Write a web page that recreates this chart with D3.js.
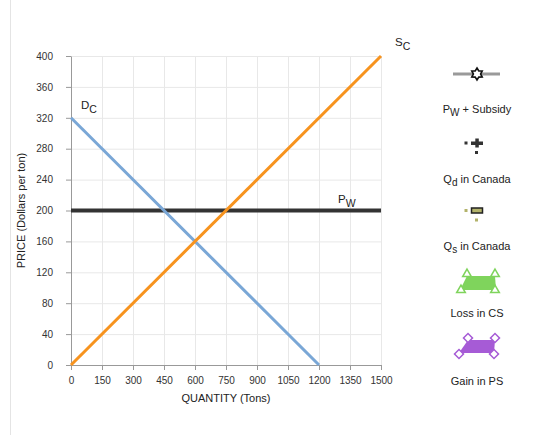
<!DOCTYPE html>
<html>
<head>
<meta charset="utf-8">
<script src="https://cdn.jsdelivr.net/npm/d3@7"></script>
<style>
  body { margin: 0; background: #fff; }
  svg text { font-family: "Liberation Sans", Arial, sans-serif; fill: #222; }
  .grid line { stroke: #e8e8e8; }
  .axis path, .axis line { stroke: #999; }
  .axis text { font-size: 10px; fill: #333; }
</style>
</head>
<body>
<script>
// chart data
const xTicks = [0, 150, 300, 450, 600, 750, 900, 1050, 1200, 1350, 1500];
const yTicks = [0, 40, 80, 120, 160, 200, 240, 280, 320, 360, 400];
const demandPts = [[0, 320], [1200, 0]];
const supplyPts = [[0, 0], [1500, 400]];
const worldPricePts = [[0, 200], [1500, 200]];
const legendLabels = [["P", "W", " + Subsidy"], ["Q", "d", " in Canada"], ["Q", "s", " in Canada"], ["Loss in CS", "", ""], ["Gain in PS", "", ""]];

const margin = {top: 56, right: 179, bottom: 70, left: 71};
const width = 560, height = 435;
const w = width - margin.left - margin.right;
const h = height - margin.top - margin.bottom;

const svg = d3.select('body').append('svg')
    .attr('width', width)
    .attr('height', height);

// faint left border
svg.append('line')
    .attr('x1', 10.5).attr('x2', 10.5)
    .attr('y1', 0).attr('y2', height)
    .style('stroke', '#e4e4e4');

const g = svg.append('g')
    .attr('transform', 'translate(' + margin.left + ',' + margin.top + ')');

const x = d3.scaleLinear().domain([0, 1500]).range([0, w]);
const y = d3.scaleLinear().domain([0, 400]).range([h, 0]);

// grid
g.append('g').attr('class', 'grid')
    .selectAll('line.v').data(xTicks.slice(1)).enter().append('line')
    .attr('x1', d => x(d) + 0.5).attr('x2', d => x(d) + 0.5)
    .attr('y1', 0).attr('y2', h);
g.append('g').attr('class', 'grid')
    .selectAll('line.h').data(yTicks.slice(1)).enter().append('line')
    .attr('x1', 0).attr('x2', w)
    .attr('y1', d => y(d) + 0.5).attr('y2', d => y(d) + 0.5);

// axes
g.append('g').attr('class', 'axis')
    .attr('transform', 'translate(0,' + h + ')')
    .call(d3.axisBottom(x).tickValues(xTicks).tickFormat(d3.format('d')).tickSize(5).tickSizeOuter(0).tickPadding(7));
g.append('g').attr('class', 'axis')
    .call(d3.axisLeft(y).tickValues(yTicks).tickFormat(d3.format('d')).tickSize(5).tickSizeOuter(0).tickPadding(13));

// axis titles
svg.append('text')
    .attr('x', margin.left + w / 2)
    .attr('y', 402)
    .attr('text-anchor', 'middle')
    .style('font-size', '11px')
    .text('QUANTITY (Tons)');
svg.append('text')
    .attr('transform', 'translate(25,' + (margin.top + h / 2) + ') rotate(-90)')
    .attr('text-anchor', 'middle')
    .style('font-size', '11px')
    .text('PRICE (Dollars per ton)');

const line = d3.line().x(d => x(d[0])).y(d => y(d[1]));

g.append('path').datum(worldPricePts)
    .attr('d', line)
    .style('fill', 'none').style('stroke', '#333').style('stroke-width', 4);
g.append('path').datum(demandPts)
    .attr('d', line)
    .style('fill', 'none').style('stroke', '#7aa7d6').style('stroke-width', 3);
g.append('path').datum(supplyPts)
    .attr('d', line)
    .style('fill', 'none').style('stroke', '#f7931e').style('stroke-width', 3);

// curve labels with subscripts
function subLabel(parent, px, py, main, sub, size) {
    let t = parent.append('text').attr('x', px).attr('y', py).style('font-size', size + 'px');
    t.append('tspan').text(main);
    t.append('tspan').attr('dy', 4).style('font-size', (size - 1) + 'px').text(sub);
    return t;
}
subLabel(g, x(demandPts[0][0]) + 10, y(demandPts[0][1]) - 9, 'D', 'C', 11.5);
subLabel(g, x(supplyPts[1][0]) + 14, y(supplyPts[1][1]) - 10, 'S', 'C', 11.5);
subLabel(g, x(1350) - 12, y(200) - 8, 'P', 'W', 11.5);

// legend
const lx = 477;
const leg = svg.append('g');

// Pw + Subsidy icon
leg.append('line')
    .attr('x1', lx - 24).attr('x2', lx + 23)
    .attr('y1', 74).attr('y2', 74)
    .style('stroke', '#9a9a9a').style('stroke-width', 3);
const star = leg.append('g').attr('transform', 'translate(' + lx + ',74)');
const tri = r => [0, 1, 2].map(i => [r * Math.sin(i * 2 * Math.PI / 3), -r * Math.cos(i * 2 * Math.PI / 3)]);
const hex = [];
for (let i = 0; i < 6; i++) {
    let a = i * Math.PI / 3;
    let b = a + Math.PI / 6;
    hex.push([6 * Math.sin(a), -6 * Math.cos(a)]);
    hex.push([3.6 * Math.sin(b), -3.6 * Math.cos(b)]);
}
star.append('polygon')
    .attr('points', hex.map(p => p.join(',')).join(' '))
    .style('fill', '#fff').style('stroke', '#111').style('stroke-width', 1.6);

// Qd icon
const qd = leg.append('g').style('fill', '#333');
qd.append('rect').attr('x', 464.5).attr('y', 141.5).attr('width', 3).attr('height', 3);
qd.append('rect').attr('x', 475).attr('y', 151).attr('width', 3).attr('height', 3);
qd.append('rect').attr('x', 471).attr('y', 141.5).attr('width', 12).attr('height', 3.5);
qd.append('rect').attr('x', 475.3).attr('y', 138.5).attr('width', 3.5).attr('height', 9);

// Qs icon
const qs = leg.append('g');
qs.append('rect').attr('x', 464.5).attr('y', 209).attr('width', 3).attr('height', 3).style('fill', '#b3b36b');
qs.append('rect').attr('x', 475).attr('y', 218.5).attr('width', 3).attr('height', 3).style('fill', '#b3b36b');
qs.append('rect').attr('x', 471.5).attr('y', 208).attr('width', 11).attr('height', 5)
    .style('fill', '#b3b36b').style('stroke', '#222').style('stroke-width', 1.5);

// Loss in CS icon
const loss = leg.append('g');
loss.append('polygon')
    .attr('points', '467,276 495,276 496,290 460,290')
    .style('fill', '#7fd45c');
[[467, 275], [495, 275], [461, 291], [495, 291]].forEach(p => {
    loss.append('polygon')
        .attr('points', tri(5).map(q => (p[0] + q[0]) + ',' + (p[1] + q[1] - 1)).join(' '))
        .style('fill', '#fff').style('stroke', '#7fd45c').style('stroke-width', 1.5);
});

// Gain in PS icon
const gain = leg.append('g');
gain.append('polygon')
    .attr('points', '468,340 495,340 494,353 459,353')
    .style('fill', '#a65bd6');
[[468, 338], [495, 338], [459, 354], [494, 354]].forEach(p => {
    gain.append('rect')
        .attr('x', -3.2).attr('y', -3.2).attr('width', 6.4).attr('height', 6.4)
        .attr('transform', 'translate(' + p[0] + ',' + p[1] + ') rotate(45)')
        .style('fill', '#fff').style('stroke', '#a65bd6').style('stroke-width', 1.5);
});

// legend labels
const labelY = [113, 183, 250, 317, 385];
legendLabels.forEach((lab, i) => {
    let t = leg.append('text')
        .attr('x', lx).attr('y', labelY[i])
        .attr('text-anchor', 'middle')
        .style('font-size', '11px');
    t.append('tspan').text(lab[0]);
    if (lab[1]) {
        t.append('tspan').attr('dy', 3).style('font-size', '10px').text(lab[1]);
        t.append('tspan').attr('dy', -3).text(lab[2]);
    }
});
</script>
</body>
</html>
